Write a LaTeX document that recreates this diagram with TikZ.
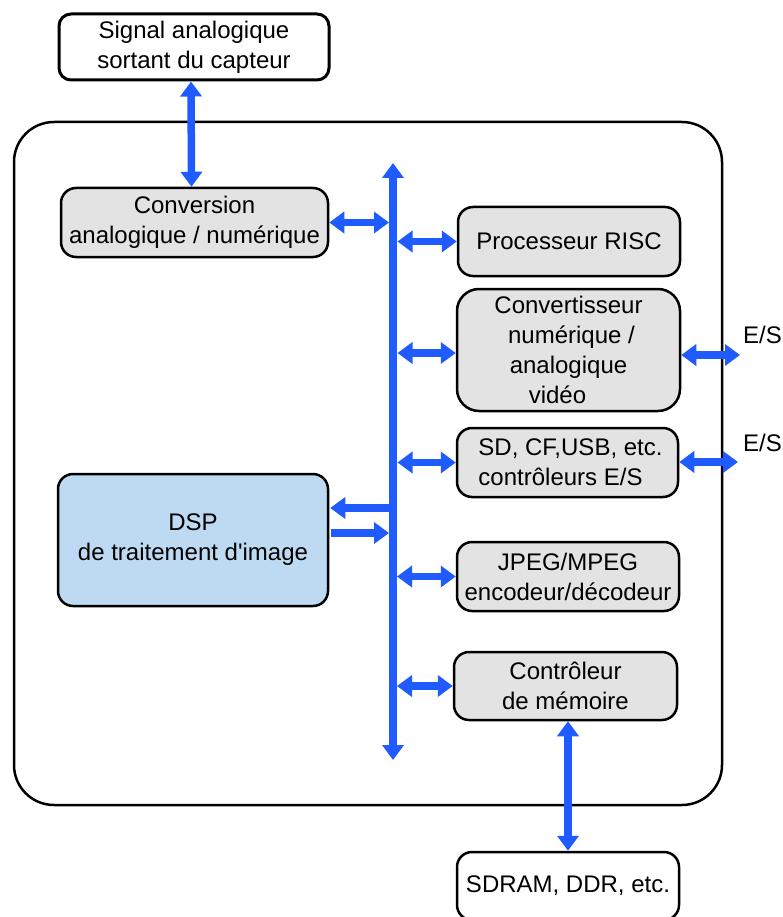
\documentclass[tikz,border=0pt]{standalone}
\usepackage{fontspec}
\setmainfont{Liberation Sans}
\usetikzlibrary{arrows.meta,calc}
\definecolor{busblue}{HTML}{1F5BFF}
\definecolor{boxgray}{HTML}{E3E3E3}
\definecolor{dspblue}{HTML}{BDDAF2}
\begin{document}
\begin{tikzpicture}[x=1pt,y=-1pt,
  blk/.style={draw=black, line width=2.5pt, rounded corners=15pt, fill=boxgray, inner sep=0pt, align=center, font=\fontsize{24}{30}\selectfont},
  link/.style={draw=busblue, line width=7.5pt, {Triangle[length=15pt,width=21pt]}-{Triangle[length=15pt,width=21pt]}},
  onelink/.style={draw=busblue, line width=7.5pt, -{Triangle[length=15pt,width=21pt]}},
  lbl/.style={font=\fontsize{24}{30}\selectfont, inner sep=0pt}]
\useasboundingbox (0,0) rectangle (783,917);
% outer frame
\node[draw=black, line width=2.5pt, rounded corners=40pt, minimum width=708pt, minimum height=683pt, inner sep=0pt] (soc) at (368,463.5) {};
% blocks
\node[blk, fill=white, line width=3pt, rounded corners=12pt, minimum width=270pt, minimum height=66pt] (sig) at (194,47) {Signal analogique\\sortant du capteur};
\node[blk, minimum width=267pt, minimum height=69pt] (adc) at (194.5,222.5) {Conversion\\analogique / numérique};
\node[blk, minimum width=222pt, minimum height=69pt] (risc) at (569,241.5) {Processeur RISC};
\node[blk, rounded corners=22pt, minimum width=223pt, minimum height=122pt] (conv) at (568.5,350) {Convertisseur\\\hspace*{6pt}numérique /\\analogique\\vidéo\hspace*{22pt}};
\node[blk, align=left, minimum width=221pt, minimum height=69pt] (sd) at (567.5,462.5) {\hspace*{6pt}SD, CF,USB, etc.\\\hspace*{6pt}contrôleurs E/S};
\node[blk, fill=dspblue, minimum width=270pt, minimum height=132pt] (dsp) at (193,540) {DSP\\de traitement d\textquotesingle image};
\node[blk, minimum width=222pt, minimum height=69pt] (jpeg) at (568,576.5) {JPEG/MPEG\\encodeur/décodeur};
\node[blk, minimum width=223pt, minimum height=68pt] (ctrl) at (565.5,686) {Contrôleur\\de mémoire};
\node[blk, fill=white, minimum width=222pt, minimum height=68pt] (sdram) at (568,886) {SDRAM, DDR, etc.};
% labels
\node[lbl, anchor=west] (es1) at (743,335) {E/S};
\node[lbl, anchor=west] (es2) at (743,443) {E/S};
\coordinate (es1p) at (740,355);
\coordinate (es2p) at (738,462);
% bus
\coordinate (bt) at (393,163);
\coordinate (bb) at (393,760);
\draw[link] (bt) -- (bb);
% connectors
\draw[link] ([xshift=-3pt]sig.south) -- ([xshift=-3pt]adc.north);
\draw[link] (adc.east) -- ($(bt |- adc.east)+(-4,0)$);
\draw[link] ($(bt |- risc.west)+(4.5,0)$) -- (risc.west);
\draw[link] ($(bt |- conv.west)+(4.5,3)$) -- ($(conv.west)+(0,3)$);
\draw[link] (conv.east |- es1p) -- (es1p);
\draw[link] ($(bt |- sd.west)+(4.5,0)$) -- (sd.west);
\draw[link] (sd.east |- es2p) -- (es2p);
\draw[onelink] ($(bt |- dsp.east)+(0,-32)$) -- ($(dsp.east)+(1,-32)$);
\draw[onelink] ($(dsp.east)+(2,-7)$) -- ($(bt |- dsp.east)+(-4,-7)$);
\draw[link] ($(bt |- jpeg.west)+(4,0)$) -- (jpeg.west);
\draw[link] ($(bt |- ctrl.west)+(4,0)$) -- (ctrl.west);
\draw[link] (sdram.north |- ctrl.south) -- (sdram.north);
\end{tikzpicture}
\end{document}
